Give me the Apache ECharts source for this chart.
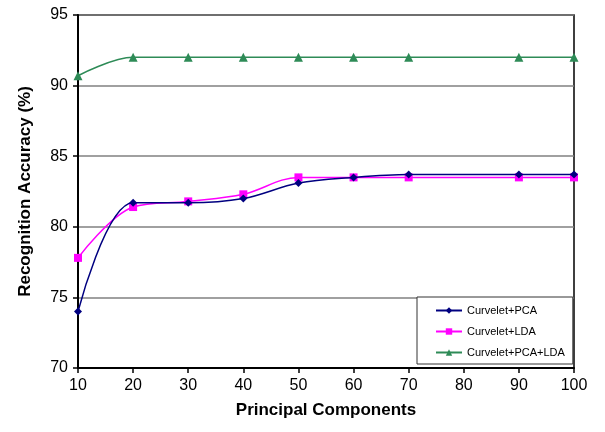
<!DOCTYPE html>
<html>
<head>
<meta charset="utf-8">
<script src="https://cdn.jsdelivr.net/npm/echarts@6/dist/echarts.min.js"></script>
<style>
  html, body { margin: 0; padding: 0; background: #fff; }
  #chart { width: 605px; height: 432px; }
</style>
</head>
<body>
<div id="chart"></div>
<script>
// x values (principal components) - no measurement at 80
const components = [10, 20, 30, 40, 50, 60, 70, 90, 100];
const pca = [74.0, 81.7, 81.7, 82.0, 83.1, 83.5, 83.7, 83.7, 83.7];
const lda = [77.8, 81.4, 81.8, 82.3, 83.5, 83.5, 83.5, 83.5, 83.5];
const pcaLda = [90.7, 92.0, 92.0, 92.0, 92.0, 92.0, 92.0, 92.0, 92.0];

const font = 'Liberation Sans, Arial, sans-serif';

function pairs(ys) {
  return components.map((x, i) => [x, ys[i]]);
}

const chart = echarts.init(document.getElementById('chart'));

chart.setOption({
  animation: false,
  backgroundColor: '#fff',
  grid: {
    left: 78, right: 31, top: 15, bottom: 64,
    show: true, borderColor: '#000', borderWidth: 1.5
  },
  legend: {
    orient: 'vertical',
    left: 417, top: 297,
    padding: [8, 8, 6, 18],
    itemGap: 10,
    itemWidth: 26,
    itemHeight: 8,
    backgroundColor: '#fff',
    borderColor: '#333',
    borderWidth: 1,
    textStyle: { fontFamily: font, fontSize: 11, color: '#000' },
    data: ['Curvelet+PCA', 'Curvelet+LDA', 'Curvelet+PCA+LDA']
  },
  xAxis: {
    type: 'value',
    min: 10, max: 100, interval: 10,
    name: 'Principal Components',
    nameLocation: 'middle',
    nameGap: 34,
    nameTextStyle: { fontFamily: font, fontSize: 17, fontWeight: 'bold', color: '#000' },
    axisLine: { lineStyle: { color: '#000', width: 2 } },
    axisTick: { show: true, length: 5, lineStyle: { color: '#000', width: 1.5 } },
    axisLabel: { fontFamily: font, fontSize: 16, color: '#000', margin: 10 },
    splitLine: { show: false }
  },
  yAxis: {
    type: 'value',
    min: 70, max: 95, interval: 5,
    name: 'Recognition Accuracy (%)',
    nameLocation: 'middle',
    nameGap: 44,
    nameTextStyle: { fontFamily: font, fontSize: 17, fontWeight: 'bold', color: '#000' },
    axisLine: { show: true, lineStyle: { color: '#000', width: 2 } },
    axisTick: { show: true, length: 5, lineStyle: { color: '#000', width: 1.5 } },
    axisLabel: { fontFamily: font, fontSize: 16, color: '#000', margin: 10 },
    splitLine: { show: true, lineStyle: { color: '#808080', width: 1.5 } }
  },
  series: [
    {
      name: 'Curvelet+PCA',
      type: 'line',
      data: pairs(pca),
      smooth: 0.35,
      symbol: 'diamond',
      symbolSize: 8,
      itemStyle: { color: '#000080' },
      lineStyle: { color: '#000080', width: 1.5 },
      z: 3
    },
    {
      name: 'Curvelet+LDA',
      type: 'line',
      data: pairs(lda),
      smooth: 0.35,
      symbol: 'rect',
      symbolSize: 8,
      itemStyle: { color: '#ff00ff' },
      lineStyle: { color: '#ff00ff', width: 1.5 },
      z: 2
    },
    {
      name: 'Curvelet+PCA+LDA',
      type: 'line',
      data: pairs(pcaLda),
      smooth: 0.35,
      symbol: 'triangle',
      symbolSize: 9,
      itemStyle: { color: '#2e8b57' },
      lineStyle: { color: '#2e8b57', width: 1.5 },
      z: 2
    }
  ]
});
</script>
</body>
</html>
